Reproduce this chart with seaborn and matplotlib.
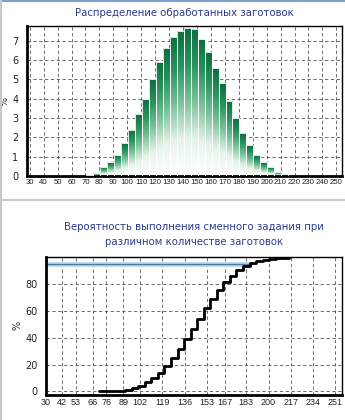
import numpy as np
import matplotlib
matplotlib.use("Agg")
import matplotlib.pyplot as plt
from matplotlib.colors import LinearSegmentedColormap
from matplotlib.lines import Line2D
import seaborn as sns

# values
qty_bins = [73, 78, 83, 88, 93, 98, 103, 108, 113, 118, 123, 128, 133, 138, 143,
            148, 153, 158, 163, 168, 173, 178, 183, 188, 193, 198, 203, 208, 213]
share_pct = [0.05, 0.15, 0.45, 0.7, 1.1, 1.7, 2.4, 3.2, 4.0, 5.0, 5.9, 6.6, 7.2, 7.5, 7.65,
             7.6, 7.1, 6.4, 5.6, 4.8, 3.9, 3.0, 2.2, 1.6, 1.08, 0.7, 0.45, 0.2, 0.1]

step_qty = [70.5, 75.5, 80.5, 85.5, 90.5, 95.5, 100.5, 105.5, 110.5, 115.5,
            120.5, 125.5, 130.5, 135.5, 140.5, 145.5, 150.5, 155.5, 160.5, 165.5,
            170.5, 175.5, 180.5, 185.5, 190.5, 195.5, 200.5, 205.5, 210.5, 215.5]
cum_pct = [0, 0.05, 0.2, 0.7, 1.4, 2.5, 4.2, 6.7, 9.9, 14.0,
           19.1, 25.1, 31.8, 39.1, 46.7, 54.5, 62.2, 69.5, 76.0, 81.7,
           86.5, 90.5, 93.6, 95.8, 97.4, 98.5, 99.2, 99.7, 99.9, 100]

target_pct = 95
target_qty = 185

top_ticks = [30, 40, 50, 60, 70, 80, 90, 100, 110, 120, 130, 140, 150, 160,
             170, 180, 190, 200, 210, 220, 230, 240, 250]
bottom_ticks = [30, 42, 53, 66, 76, 89, 102, 119, 136, 153, 167, 183, 200, 217, 234, 251]

title_top = "Распределение обработанных заготовок"
title_bottom = "Вероятность выполнения сменного задания при\nразличном количестве заготовок"

sns.set_style("white")
plt.rcParams["font.family"] = ["DejaVu Sans"]

fig = plt.figure(figsize=(3.45, 4.2), dpi=100)
ax1 = fig.add_axes([0.078, 0.581, 0.913, 0.357])
ax2 = fig.add_axes([0.133, 0.06, 0.858, 0.328])

title_color = "#2b3a8e"
tick_font = ["Liberation Sans", "DejaVu Sans"]
grid_kw = dict(color="#555555", linestyle=(0, (4, 3)), linewidth=0.6)

# -----------------------------
# top: distribution histogram
# -----------------------------
sns.barplot(x=qty_bins, y=share_pct, native_scale=True, width=1.0, errorbar=None,
            edgecolor="white", linewidth=0.6, ax=ax1)

fade = LinearSegmentedColormap.from_list(
    "fade", ["#ffffff", "#e6f4ea", "#7cc39b", "#2a9560", "#0b6e3d"])
grad = np.linspace(0, 1, 256).reshape(-1, 1)
for patch in ax1.patches:
    x0, y0 = patch.get_x(), patch.get_y()
    w, h = patch.get_width(), patch.get_height()
    im = ax1.imshow(grad, extent=[x0, x0 + w, y0, y0 + h], origin="lower",
                    cmap=fade, aspect="auto", zorder=2)
    im.set_clip_path(patch)
    patch.set_facecolor("none")
    patch.set_zorder(3)

ax1.set_xlim(28, 254)
ax1.set_ylim(0, 7.75)
ax1.set_xticks(top_ticks)
ax1.set_xticklabels([str(t) for t in top_ticks], fontsize=5.6, color="#222222",
                    family=tick_font)
ax1.set_yticks(range(0, 8))
ax1.tick_params(axis="y", labelsize=7, colors="#222222", length=0, pad=6)
ax1.tick_params(axis="x", direction="in", length=3, pad=2.5)
ax1.grid(True, **grid_kw)
ax1.set_axisbelow(True)
ax1.set_ylabel("%", fontsize=7, labelpad=2)
ax1.set_title(title_top, fontsize=7.3, color=title_color, pad=7)

# -----------------------------
# bottom: cumulative probability
# -----------------------------
ax2.hlines(target_pct, 30, target_qty, color="#c4daee", linewidth=3.5, zorder=2)
ax2.hlines(target_pct, 30, target_qty, color="#4a78a8", linewidth=1.0, zorder=2)
sns.lineplot(x=step_qty, y=cum_pct, drawstyle="steps-post", color="black",
             linewidth=2.0, ax=ax2, zorder=3)

ax2.set_xlim(30, 256)
ax2.set_ylim(-2.5, 100.5)
ax2.set_xticks(bottom_ticks)
ax2.set_xticklabels([str(t) for t in bottom_ticks], fontsize=6.5, color="#222222",
                    family=tick_font)
ax2.set_yticks([0, 20, 40, 60, 80])
ax2.tick_params(axis="y", labelsize=7, colors="#222222", length=0, pad=6)
ax2.tick_params(axis="x", direction="in", length=3, pad=2.5)
ax2.grid(True, **grid_kw)
ax2.set_axisbelow(True)
ax2.set_ylabel("%", fontsize=7, labelpad=2)
ax2.set_title(title_bottom, fontsize=7.3, color=title_color, pad=9, linespacing=1.6)

for ax in (ax1, ax2):
    for side in ("left", "bottom"):
        ax.spines[side].set_linewidth(2.0)
        ax.spines[side].set_color("black")
    for side in ("top", "right"):
        ax.spines[side].set_linewidth(1.0)
        ax.spines[side].set_color("black")

# panel borders like the original window
fig.add_artist(Line2D([0, 1], [0.998, 0.998], color="#7f9fc8", linewidth=1.5))
fig.add_artist(Line2D([0, 1], [0.524, 0.524], color="#c8c8c8", linewidth=1.5))
fig.add_artist(Line2D([0.003, 0.003], [0, 1], color="#c8c8c8", linewidth=1.5))

fig.savefig("out.png", dpi=100)
